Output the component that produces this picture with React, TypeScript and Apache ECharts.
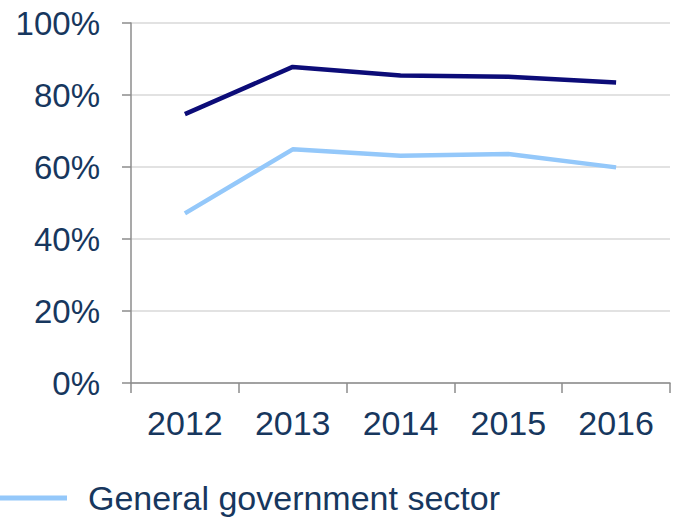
import React, { useEffect, useRef } from "react";
import * as echarts from "echarts";

const years = ["2012", "2013", "2014", "2015", "2016"];
const totalEconomy = [74.7, 87.8, 85.4, 85.1, 83.5];
const generalGovernment = [47.1, 64.9, 63.1, 63.6, 59.9];
const yTicks = { min: 0, max: 100, interval: 20 };

const FONT = "Liberation Sans, Arial, sans-serif";
const TEXT = "#17375e";

export default function App() {
  const ref = useRef<HTMLDivElement>(null);
  useEffect(() => {
    if (!ref.current) return;
    const chart = echarts.init(ref.current, undefined, { renderer: "svg" });
    chart.setOption({
      animation: false,
      backgroundColor: "#ffffff",
      grid: { left: 131, right: 8, top: 23, bottom: 135, containLabel: false },
      legend: {
        data: [{ name: "General government sector", icon: "rect" }],
        left: 0,
        top: 481,
        padding: 0,
        itemWidth: 67,
        itemHeight: 5,
        textStyle: {
          fontFamily: FONT,
          fontSize: 34,
          color: TEXT,
          padding: [0, 0, 0, 16],
        },
      },
      xAxis: {
        type: "category",
        data: years,
        boundaryGap: true,
        axisLine: { show: true, lineStyle: { color: "#8c8c8c", width: 1.5 } },
        axisTick: { show: true, length: 10, lineStyle: { color: "#8c8c8c", width: 1.5 } },
        axisLabel: { fontFamily: FONT, fontSize: 34, color: TEXT, margin: 23 },
        splitLine: { show: false },
      },
      yAxis: {
        type: "value",
        min: yTicks.min,
        max: yTicks.max,
        interval: yTicks.interval,
        axisLine: { show: true, lineStyle: { color: "#8c8c8c", width: 1.5 } },
        axisTick: { show: true, length: 9, lineStyle: { color: "#8c8c8c", width: 1.5 } },
        axisLabel: {
          fontFamily: FONT,
          fontSize: 33,
          color: TEXT,
          margin: 31,
          formatter: "{value}%",
        },
        splitLine: { show: true, lineStyle: { color: "#d9d9d9", width: 1.5 } },
      },
      series: [
        {
          name: "Total economy",
          type: "line",
          data: totalEconomy,
          symbol: "none",
          lineStyle: { color: "#0c0c78", width: 4.5 },
          itemStyle: { color: "#0c0c78" },
        },
        {
          name: "General government sector",
          type: "line",
          data: generalGovernment,
          symbol: "none",
          lineStyle: { color: "#94c8fa", width: 4.5 },
          itemStyle: { color: "#94c8fa" },
        },
      ],
    });
    return () => chart.dispose();
  }, []);
  return <div ref={ref} style={{ width: 678, height: 518, position: "absolute", left: 0, top: 0 }} />;
}
